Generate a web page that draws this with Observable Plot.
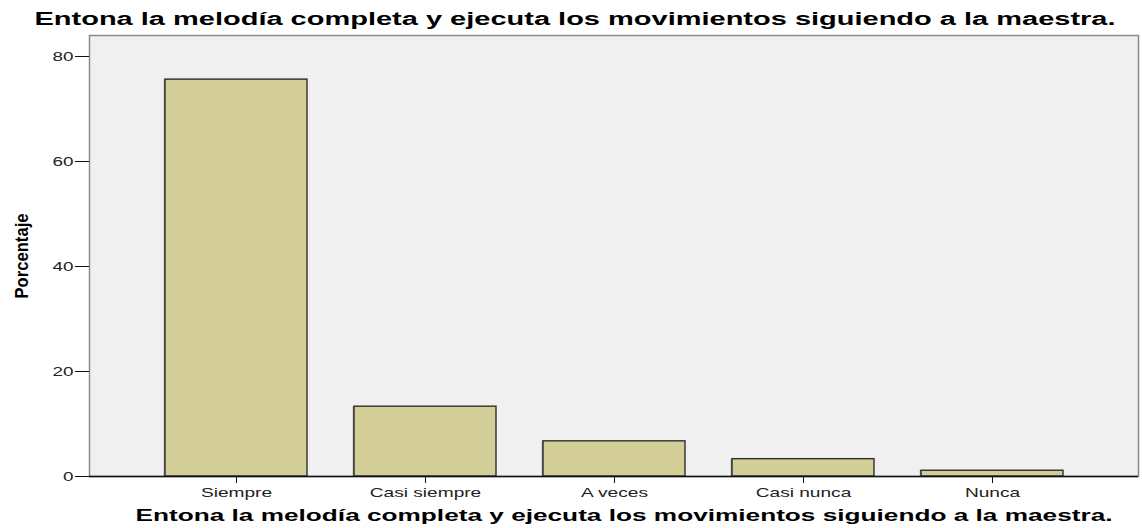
<!DOCTYPE html>
<html><head><meta charset="utf-8">
<script src="https://cdn.jsdelivr.net/npm/d3@7"></script>
<script src="https://cdn.jsdelivr.net/npm/@observablehq/plot@0.6"></script>
<style>
html,body{margin:0;padding:0;background:#fff;}
</style>
</head><body>
<div id="chart"></div>
<script>
const categories = ["Siempre", "Casi siempre", "A veces", "Casi nunca", "Nunca"];
const percentages = [75.6, 13.3, 6.7, 3.3, 1.1];
const yTicks = [0, 20, 40, 60, 80];
const titleText = "Entona la melodía completa y ejecuta los movimientos siguiendo a la maestra.";
const yLabel = "Porcentaje";

const data = categories.map((c, i) => ({category: c, value: percentages[i]}));

const chart = Plot.plot({
  width: 1142,
  height: 528,
  marginLeft: 89,
  marginRight: 4,
  marginTop: 35,
  marginBottom: 52,
  style: {fontFamily: "'Liberation Sans', Arial, sans-serif", background: "#fff"},
  x: {domain: categories, paddingInner: 0.25, paddingOuter: 0.40, label: null},
  y: {domain: [0, 84], ticks: yTicks, label: null},
  marks: [
    Plot.frame({fill: "#f0f0f0", stroke: "#8a8a8a", strokeWidth: 1.5}),
    Plot.barY(data, {x: "category", y: "value", fill: "#7a7a7a", dx: -1.2, stroke: "none"}),
    Plot.barY(data, {x: "category", y: "value", fill: "#d3ce97", stroke: "#2e2e2e", strokeWidth: 1.4}),
    Plot.ruleX([0], {frameAnchor: "left", stroke: "#111", strokeWidth: 1.5}),
    Plot.ruleY([0], {stroke: "#111", strokeWidth: 1.5}),
    Plot.axisY({ticks: yTicks, tickSize: 14, tickPadding: 2, fontSize: 13, stroke: "#111", fill: "#222", label: null, className: "ax-y"}),
    Plot.axisX({tickSize: 7, tickPadding: 4, fontSize: 13, stroke: "#111", fill: "#222", label: null, className: "ax-x"}),
    Plot.text([titleText], {frameAnchor: "top", dx: -39, dy: -23, fontSize: 17.5, fontWeight: "bold", fill: "#000", className: "ttl-top"}),
    Plot.text([titleText], {frameAnchor: "bottom", dx: 10, dy: 44, fontSize: 16.5, fontWeight: "bold", fill: "#000", className: "ttl-bottom"}),
    Plot.text([yLabel], {frameAnchor: "left", dx: -68, rotate: -90, textAnchor: "middle", fontSize: 19, fontWeight: "bold", fill: "#000", className: "ttl-y"})
  ]
});
document.getElementById("chart").appendChild(chart);

function fit(cls, len) {
  chart.querySelectorAll("g." + cls + " text").forEach(t => {
    t.setAttribute("textLength", len);
    t.setAttribute("lengthAdjust", "spacingAndGlyphs");
  });
}
function stretch(cls, k) {
  chart.querySelectorAll("g." + cls + " text").forEach(t => {
    const w = t.getComputedTextLength();
    t.setAttribute("textLength", (w * k).toFixed(1));
    t.setAttribute("lengthAdjust", "spacingAndGlyphs");
  });
}
fit("ttl-top", 1081);
fit("ttl-bottom", 977);
fit("ttl-y", 85);
stretch("ax-x", 1.47);
stretch("ax-y", 1.45);
</script>
</body></html>
